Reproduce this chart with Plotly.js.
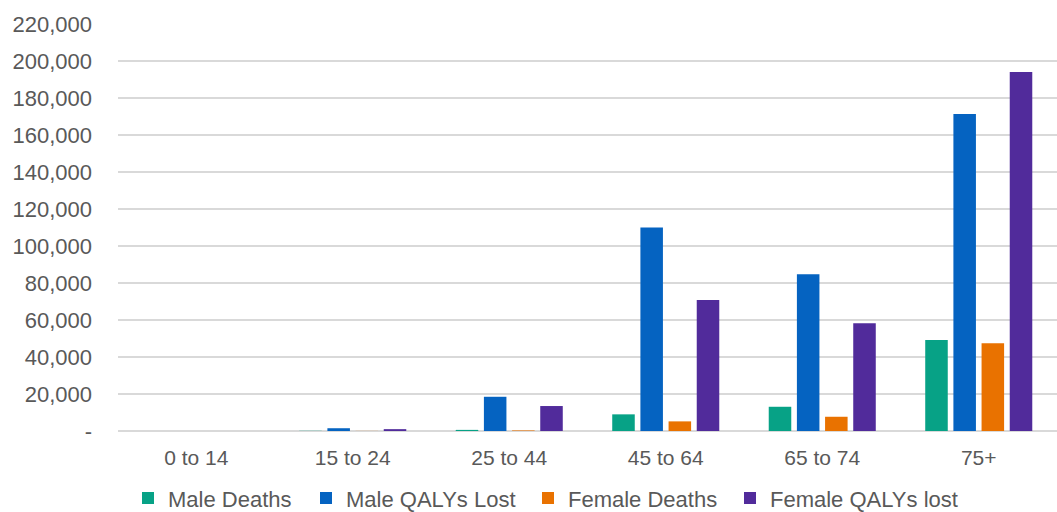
<!DOCTYPE html>
<html>
<head>
<meta charset="utf-8">
<script src="https://cdn.plot.ly/plotly-3.0.1.min.js"></script>
<style>html,body{margin:0;padding:0;background:#fff;}#chart{width:1057px;height:512px;}</style>
</head>
<body>
<div id="chart"></div>
<script>
const categories = ["0 to 14", "15 to 24", "25 to 44", "45 to 64", "65 to 74", "75+"];
const maleDeaths = [0, 100, 600, 9000, 13100, 49200];
const maleQALYs = [0, 1500, 18500, 110000, 84700, 171400];
const femaleDeaths = [0, 50, 300, 5200, 7700, 47400];
const femaleQALYs = [0, 1000, 13500, 70800, 58200, 194100];
const seriesNames = ["Male Deaths", "Male QALYs Lost", "Female Deaths", "Female QALYs lost"];
const tickValues = [0, 20000, 40000, 60000, 80000, 100000, 120000, 140000, 160000, 180000, 200000, 220000];
const tickLabels = ["-", "20,000", "40,000", "60,000", "80,000", "100,000", "120,000", "140,000", "160,000", "180,000", "200,000", "220,000"];

const colors = ["#07a286", "#0563c1", "#e97200", "#512b9b"];
const seriesData = [maleDeaths, maleQALYs, femaleDeaths, femaleQALYs];
const legendIds = ["legend", "legend2", "legend3", "legend4"];
const legendX = [128, 306, 528, 730];

const traces = seriesData.map((vals, i) => ({
  type: "bar",
  name: seriesNames[i],
  x: categories,
  y: vals,
  marker: { color: colors[i] },
  legend: legendIds[i],
  hoverinfo: "skip"
}));

const layout = {
  width: 1057,
  height: 512,
  margin: { l: 118, r: 0, t: 24, b: 81 },
  paper_bgcolor: "#ffffff",
  plot_bgcolor: "#ffffff",
  font: { family: "Liberation Sans, Arial, sans-serif", size: 22, color: "#595959" },
  barmode: "group",
  bargap: 0.28,
  bargroupgap: 0.2,
  showlegend: true,
  xaxis: {
    showgrid: false,
    showline: false,
    zeroline: false,
    ticks: "",
    tickfont: { size: 21, color: "#595959" },
    ticklabelstandoff: 12
  },
  yaxis: {
    range: [0, 220000],
    tickvals: tickValues,
    ticktext: tickLabels,
    showgrid: true,
    gridcolor: "#d9d9d9",
    gridwidth: 1.5,
    zeroline: true,
    zerolinecolor: "#d9d9d9",
    zerolinewidth: 1.5,
    showline: false,
    ticks: "",
    tickfont: { size: 22, color: "#595959" },
    ticklabelstandoff: 25
  }
};

legendIds.forEach((id, i) => {
  layout[id] = {
    orientation: "h",
    xref: "container",
    yref: "container",
    x: legendX[i] / 1057,
    xanchor: "left",
    y: 0.027,
    yanchor: "middle",
    font: { size: 22, color: "#595959" },
    bgcolor: "rgba(0,0,0,0)"
  };
});

Plotly.newPlot("chart", traces, layout, { displayModeBar: false, staticPlot: true });
</script>
</body>
</html>
